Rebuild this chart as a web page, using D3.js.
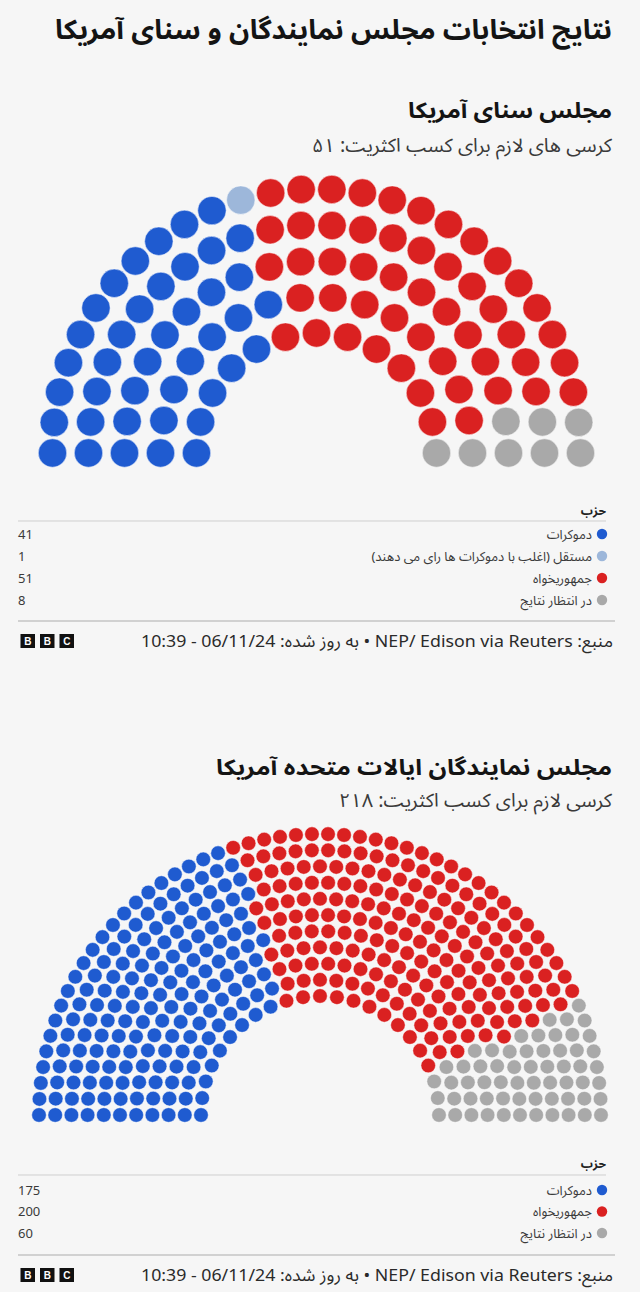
<!DOCTYPE html>
<html><head><meta charset="utf-8">
<script src="https://cdn.jsdelivr.net/npm/d3@7"></script>
<style>
body{margin:0;background:#f6f6f6;}
svg{display:block;}
text{font-family:"Noto Sans","Noto Sans Arabic","DejaVu Sans",sans-serif;}
</style></head><body>
<svg id="c" width="640" height="1292"></svg>
<script>
// ---------- data ----------
const mainTitle = "نتایج انتخابات مجلس نمایندگان و سنای آمریکا";
const legendHeader = "حزب";
const footerText = "منبع: NEP/ Edison via Reuters • به روز شده: 06/11/24 - 10:39";

const senateTitle = "مجلس سنای آمریکا";
const senateSubtitle = "کرسی های لازم برای کسب اکثریت: ۵۱";
const senateParties = ["دموکرات", "مستقل (اغلب با دموکرات ها رای می دهند)", "جمهوریخواه", "در انتظار نتایج"];
const senateSeats = [41, 1, 51, 8];
const senateColors = ["#1f5bd0", "#9db7da", "#da2121", "#a9a9a9"];

const houseTitle = "مجلس نمایندگان ایالات متحده آمریکا";
const houseSubtitle = "کرسی لازم برای کسب اکثریت: ۲۱۸";
const houseParties = ["دموکرات", "جمهوریخواه", "در انتظار نتایج"];
const houseSeats = [175, 200, 60];
const houseColors = ["#1f5bd0", "#da2121", "#a9a9a9"];

// ---------- drawing ----------
const svg = d3.select("#c");

function rtlText(x, y, txt, size, weight, fill, len) {
  const t = svg.append("text").attr("x", x).attr("y", y)
    .attr("direction", "rtl").attr("text-anchor", "start")
    .attr("dy", "0.35em")
    .style("font-size", size + "px").style("font-weight", weight)
    .attr("fill", fill).text(txt);
  if (len) t.attr("textLength", len).attr("lengthAdjust", "spacingAndGlyphs");
  return t;
}

function parliament(seats, colors, o) {
  const rowR = d3.scaleLinear().domain([0, o.rows - 1]).range([o.rIn, o.rOut]);
  const total = d3.sum(seats);
  const radii = d3.range(o.rows).map(i => rowR(i));
  const sumR = d3.sum(radii);
  const raw = radii.map(r => total * r / sumR);
  const counts = raw.map(Math.floor);
  let left = total - d3.sum(counts);
  const order = d3.range(o.rows).sort((a, b) => (raw[b] - counts[b]) - (raw[a] - counts[a]));
  for (let k = 0; k < left; k++) counts[order[k]]++;
  const pts = [];
  counts.forEach((n, i) => {
    const ang = d3.scaleLinear().domain([0, n - 1]).range([Math.PI, 0]);
    for (let k = 0; k < n; k++) pts.push({row: i, t: k / (n - 1), a: ang(k), r: radii[i]});
  });
  pts.sort((p, q) => d3.ascending(p.t, q.t) || d3.ascending(p.row, q.row));
  const cum = d3.cumsum(seats);
  const party = d3.scaleThreshold().domain(Array.from(cum)).range(d3.range(seats.length + 1));
  const col = d3.scaleOrdinal().domain(d3.range(seats.length)).range(colors);
  svg.append("g").selectAll("circle").data(pts).join("circle")
    .attr("cx", d => o.cx + d.r * Math.cos(d.a))
    .attr("cy", d => o.cy - d.r * Math.sin(d.a))
    .attr("r", o.dotR)
    .attr("fill", (d, i) => col(party(i)))
    .attr("stroke", "#ffffff").attr("stroke-opacity", 0.6).attr("stroke-width", 0.8);
}

function legend(parties, seats, colors, o) {
  rtlText(606, o.headY, legendHeader, 12, 700, "#222");
  svg.append("line").attr("x1", 18).attr("x2", 606).attr("y1", o.line1).attr("y2", o.line1)
    .attr("stroke", "#cfcfcf").attr("stroke-width", 1);
  const y = d3.scalePoint().domain(d3.range(parties.length)).range([o.rowY0, o.rowY0 + o.rowStep * (parties.length - 1)]);
  parties.forEach((p, i) => {
    svg.append("circle").attr("cx", 602).attr("cy", y(i)).attr("r", 5.2).attr("fill", colors[i]);
    rtlText(592, y(i), p, 13, 400, "#3a3a3a");
    svg.append("text").attr("x", 18).attr("y", y(i)).attr("dy", "0.35em")
      .style("font-size", "13px").attr("fill", "#3a3a3a").text(seats[i]);
  });
  svg.append("line").attr("x1", 18).attr("x2", 615).attr("y1", o.line2).attr("y2", o.line2)
    .attr("stroke", "#c4c4c4").attr("stroke-width", 1.5);
  // BBC logo
  ["B", "B", "C"].forEach((ch, i) => {
    const x = 20.5 + i * 19.5;
    svg.append("rect").attr("x", x).attr("y", o.footY - 7).attr("width", 14.5).attr("height", 14).attr("fill", "#111");
    svg.append("text").attr("x", x + 7.25).attr("y", o.footY).attr("dy", "0.36em")
      .attr("text-anchor", "middle").style("font-size", "10px").style("font-weight", 700)
      .style("font-family", "Liberation Sans, Arial, sans-serif").attr("fill", "#fff").text(ch);
  });
  rtlText(613, o.footY, footerText, 17, 400, "#2a2a2a", 472);
}

rtlText(612, 30, mainTitle, 27, 700, "#141414", 557);

rtlText(612, 110, senateTitle, 22, 700, "#141414", 204);
rtlText(612, 145, senateSubtitle, 19, 400, "#3a3a3a", 300);
parliament(senateSeats, senateColors, {cx: 316.5, cy: 453, rIn: 120, rOut: 264, rows: 5, dotR: 14.2});
legend(senateParties, senateSeats, senateColors, {headY: 511, line1: 521, rowY0: 534, rowStep: 22, line2: 621, footY: 641});

rtlText(612, 767, houseTitle, 22, 700, "#141414", 396);
rtlText(612, 800, houseSubtitle, 19, 400, "#3a3a3a", 273);
parliament(houseSeats, houseColors, {cx: 320, cy: 1115, rIn: 119, rOut: 281, rows: 11, dotR: 7.3});
legend(houseParties, houseSeats, houseColors, {headY: 1164, line1: 1175, rowY0: 1190, rowStep: 21.5, line2: 1255, footY: 1275});
</script>
</body></html>
